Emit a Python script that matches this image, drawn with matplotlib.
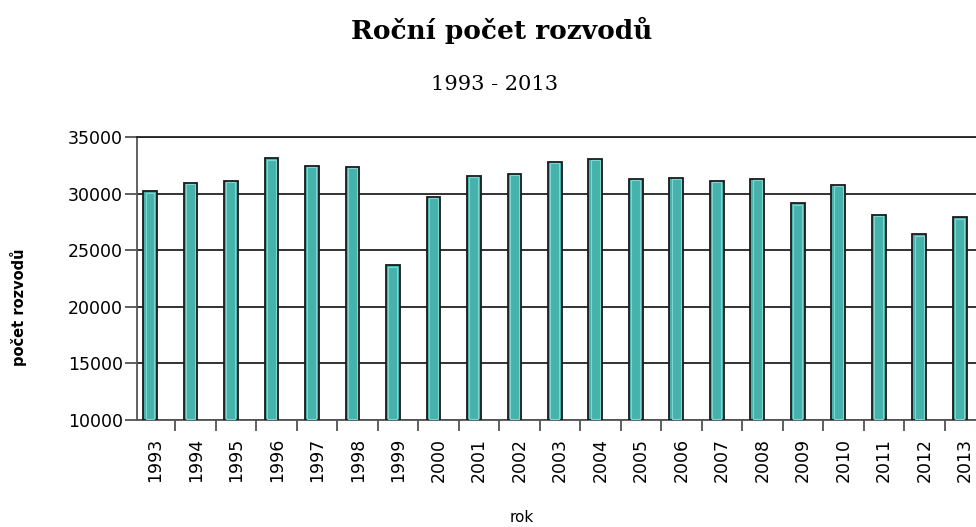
import matplotlib
matplotlib.use("Agg")
import matplotlib.pyplot as plt
import numpy as np

years = ["1993", "1994", "1995", "1996", "1997", "1998", "1999", "2000", "2001", "2002", "2003",
         "2004", "2005", "2006", "2007", "2008", "2009", "2010", "2011", "2012", "2013"]
divorces = [30227, 30939, 31135, 33113, 32465, 32363, 23657, 29704, 31586, 31758, 32824,
            33060, 31288, 31415, 31129, 31300, 29133, 30783, 28113, 26402, 27895]
yticks = [10000, 15000, 20000, 25000, 30000, 35000]

fig = plt.figure(figsize=(9.76, 5.27), dpi=100)
ax = fig.add_axes([137/976, 1 - 420/527, 1 - 137/976, (420 - 137)/527])

x = np.arange(len(years))
base = 10000
vals = np.array(divorces) - base
ax.bar(x, vals, bottom=base, width=0.34, color="#45B3AC", edgecolor="#1a1a1a", linewidth=1.3, zorder=3)
ax.bar(x, vals - 250, bottom=base + 120, width=0.22, color="none", edgecolor="#7FD6D0", linewidth=0.8, zorder=4)

ax.set_yticks(yticks)
ax.set_yticklabels([str(v) for v in yticks], fontsize=12.5, family="DejaVu Sans")
ax.yaxis.grid(True, color="#222222", linewidth=1.3, zorder=1)
ax.set_axisbelow(True)

ax.set_xticks(x + 0.13)
ax.set_xticklabels(years, rotation=90, fontsize=12.5, family="DejaVu Sans")
ax.tick_params(axis="x", which="major", length=0, pad=13)
ax.set_xticks(x + 0.63, minor=True)
ax.tick_params(axis="x", which="minor", length=8, width=1.2, color="#444444", direction="out")
ax.tick_params(axis="y", length=9, width=1.2, color="#444444", pad=1)

ax.set_ylim(10000, 35000)
ax.set_xlim(-0.32, 20.4)

ax.spines["right"].set_visible(False)
ax.spines["top"].set_color("#222222")
ax.spines["top"].set_linewidth(1.3)
ax.spines["left"].set_color("#555555")
ax.spines["left"].set_linewidth(1.3)
ax.spines["bottom"].set_color("#555555")
ax.spines["bottom"].set_linewidth(1.3)

fig.text(19/976, 1 - 307/527, "počet rozvodů", rotation=90, ha="center", va="center",
         fontsize=10.5, family="DejaVu Sans", fontweight="bold")
fig.text(522/976, 1 - 517/527, "rok", ha="center", va="center", fontsize=11, family="DejaVu Sans")

fig.text(502/976, 1 - 30/527, "Roční počet rozvodů", ha="center", va="center",
         fontsize=19, fontweight="bold", family="DejaVu Serif")
fig.text(495/976, 1 - 85/527, "1993 - 2013", ha="center", va="center",
         fontsize=15, family="DejaVu Serif")

fig.savefig("out.png", dpi=100)
